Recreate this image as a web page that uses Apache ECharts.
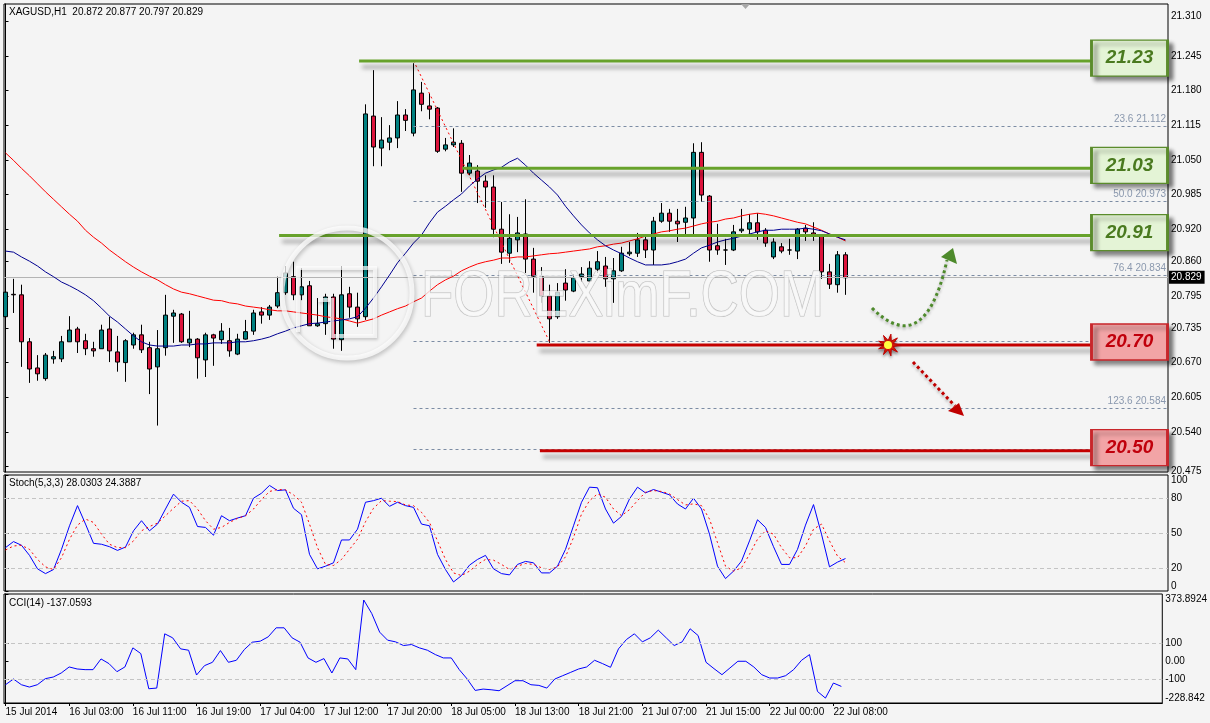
<!DOCTYPE html>
<html>
<head>
<meta charset="utf-8">
<script src="https://cdn.jsdelivr.net/npm/echarts@6/dist/echarts.min.js"></script>
<style>
html, body { margin: 0; padding: 0; background: #f4f4f4; }
#chart { width: 1210px; height: 723px; }
</style>
</head>
<body>
<div id="chart"></div>
<script>
// XAGUSD H1, 106 bars, [open, close, low, high]
const candles = [
  [20.756,20.802,20.750,20.806],[20.798,20.797,20.763,20.827],[20.797,20.709,20.662,20.816],[20.709,20.658,20.632,20.716],
  [20.660,20.649,20.636,20.684],[20.640,20.684,20.636,20.688],[20.677,20.681,20.668,20.692],[20.677,20.709,20.671,20.720],
  [20.709,20.731,20.709,20.757],[20.733,20.709,20.688,20.737],[20.711,20.696,20.684,20.724],[20.696,20.692,20.681,20.709],
  [20.696,20.731,20.696,20.741],[20.733,20.692,20.671,20.756],[20.690,20.671,20.653,20.720],[20.670,20.711,20.634,20.714],
  [20.703,20.722,20.696,20.726],[20.722,20.694,20.688,20.741],[20.698,20.658,20.611,20.709],[20.662,20.696,20.552,20.731],
  [20.698,20.759,20.683,20.797],[20.757,20.763,20.707,20.769],[20.761,20.709,20.707,20.763],[20.707,20.714,20.699,20.767],
  [20.714,20.679,20.640,20.716],[20.675,20.722,20.643,20.726],[20.722,20.716,20.664,20.724],[20.713,20.729,20.705,20.744],
  [20.711,20.692,20.681,20.735],[20.686,20.714,20.684,20.724],[20.714,20.728,20.713,20.750],[20.729,20.763,20.722,20.769],
  [20.765,20.759,20.743,20.774],[20.759,20.774,20.750,20.778],[20.776,20.801,20.772,20.831],[20.801,20.838,20.797,20.851],
  [20.831,20.797,20.787,20.859],[20.797,20.812,20.787,20.847],[20.814,20.739,20.739,20.823],[20.739,20.743,20.737,20.791],
  [20.743,20.793,20.722,20.799],[20.793,20.714,20.696,20.799],[20.713,20.797,20.692,20.851],[20.799,20.774,20.754,20.812],
  [20.774,20.752,20.737,20.801],[20.756,21.136,20.750,21.154],[21.132,21.074,21.038,21.218],[21.072,21.087,21.038,21.130],
  [21.083,21.091,21.068,21.115],[21.091,21.134,21.072,21.160],[21.134,21.124,21.104,21.145],[21.100,21.181,21.094,21.231],
  [21.175,21.154,21.141,21.196],[21.151,21.145,21.126,21.175],[21.147,21.066,21.063,21.149],[21.070,21.078,21.066,21.091],
  [21.078,21.083,21.074,21.109],[21.081,21.025,20.990,21.087],[21.025,21.044,21.021,21.059],[21.029,21.010,20.969,21.040],
  [21.010,20.999,20.960,21.021],[20.999,20.920,20.905,21.021],[20.920,20.877,20.855,20.971],[20.875,20.903,20.857,20.948],
  [20.900,20.913,20.877,20.943],[20.911,20.864,20.838,20.976],[20.864,20.832,20.801,20.885],[20.831,20.795,20.782,20.849],
  [20.795,20.752,20.707,20.816],[20.756,20.802,20.752,20.819],[20.819,20.806,20.786,20.845],[20.804,20.829,20.802,20.836],
  [20.831,20.836,20.821,20.849],[20.823,20.847,20.823,20.860],[20.845,20.859,20.838,20.879],[20.851,20.827,20.812,20.868],
  [20.827,20.842,20.782,20.866],[20.842,20.875,20.840,20.887],[20.874,20.877,20.870,20.896],[20.875,20.900,20.868,20.913],
  [20.900,20.881,20.866,20.909],[20.881,20.935,20.853,20.943],[20.935,20.950,20.932,20.969],[20.950,20.935,20.915,20.958],
  [20.935,20.930,20.896,20.958],[20.933,20.941,20.909,20.962],[20.941,21.064,20.911,21.081],[21.064,20.984,20.971,21.083],
  [20.982,20.881,20.859,20.984],[20.889,20.881,20.872,20.930],[20.881,20.881,20.853,20.902],[20.881,20.915,20.879,20.928],
  [20.917,20.920,20.913,20.958],[20.920,20.932,20.909,20.948],[20.932,20.915,20.900,20.950],[20.918,20.894,20.887,20.922],
  [20.868,20.896,20.864,20.903],[20.887,20.879,20.875,20.894],[20.881,20.881,20.872,20.902],[20.879,20.920,20.864,20.922],
  [20.922,20.915,20.898,20.928],[20.913,20.909,20.898,20.933],[20.907,20.840,20.827,20.907],[20.840,20.817,20.808,20.855],
  [20.816,20.872,20.801,20.879],[20.872,20.829,20.797,20.877]
]

// moving averages (red slow, blue fast)
const maSlow = [21.063,21.049,21.034,21.020,21.005,20.990,20.976,20.962,20.948,20.935,
  20.918,20.905,20.894,20.881,20.870,20.859,20.849,20.840,20.832,20.825,
  20.816,20.808,20.802,20.799,20.795,20.791,20.787,20.786,20.782,20.780,
  20.776,20.774,20.772,20.769,20.767,20.767,20.765,20.763,20.761,20.759,
  20.756,20.754,20.752,20.748,20.744,20.748,20.752,20.759,20.765,20.771,
  20.776,20.784,20.791,20.804,20.816,20.825,20.832,20.842,20.849,20.855,
  20.859,20.862,20.866,20.866,20.868,20.868,20.870,20.872,20.874,20.875,
  20.877,20.879,20.881,20.883,20.887,20.889,20.892,20.894,20.898,20.902,
  20.907,20.911,20.915,20.917,20.920,20.922,20.926,20.930,20.933,20.935,
  20.939,20.941,20.945,20.948,20.950,20.948,20.945,20.941,20.937,20.933,
  20.930,20.924,20.918,20.911,20.905,20.898]
const maFast = [20.879,20.877,20.868,20.860,20.851,20.840,20.831,20.821,20.814,20.806,
  20.797,20.786,20.772,20.757,20.746,20.733,20.720,20.709,20.703,20.701,
  20.701,20.701,20.703,20.703,20.705,20.705,20.707,20.707,20.707,20.709,
  20.709,20.711,20.714,20.718,20.724,20.729,20.735,20.739,20.743,20.744,
  20.746,20.748,20.750,20.752,20.756,20.772,20.791,20.812,20.834,20.857,
  20.875,20.894,20.909,20.932,20.952,20.963,20.975,20.986,21.001,21.014,
  21.025,21.031,21.036,21.046,21.053,21.040,21.025,21.012,20.999,20.984,
  20.963,20.945,20.928,20.913,20.900,20.889,20.881,20.874,20.866,20.859,
  20.853,20.853,20.853,20.855,20.859,20.864,20.875,20.885,20.890,20.896,
  20.900,20.903,20.907,20.911,20.915,20.918,20.918,20.920,20.920,20.920,
  20.922,20.920,20.917,20.911,20.905,20.900]

const stochK = [37.4,42.6,39.4,30.7,19.1,15.0,18.5,35.9,56.2,73.6,
  57.7,41.1,40.3,38.2,35.0,37.9,51.9,60.6,51.9,57.7,
  70.7,83.5,76.5,72.1,55.6,54.8,48.1,64.9,60.6,62.9,
  64.9,80.0,84.3,91.0,86.6,87.2,71.3,65.8,31.6,19.1,
  21.4,24.3,44.0,44.0,53.3,76.5,77.9,80.0,73.0,76.5,
  73.6,72.1,57.7,56.2,31.6,18.5,7.8,13.3,22.3,27.2,
  30.7,19.1,15.0,13.9,22.9,25.5,24.3,15.6,15.6,21.4,
  35.9,56.2,76.5,89.5,89.0,70.7,58.5,64.3,79.4,89.5,
  84.6,87.5,85.2,82.9,75.0,70.7,80.0,70.7,49.0,21.4,
  10.7,17.1,25.8,43.2,61.4,54.8,38.2,22.9,22.9,35.9,
  56.8,74.5,49.0,20.8,24.9,28.0]
const stochD = [35.3,38.8,39.4,35.9,27.2,20.8,18.5,28.7,44.6,56.8,
  62.0,59.1,49.0,40.3,37.4,37.4,43.2,51.9,55.6,58.5,
  64.9,71.3,77.4,77.9,70.7,60.6,53.3,54.8,59.1,62.6,
  64.9,70.7,78.8,85.8,87.5,87.2,82.9,76.5,57.7,37.4,
  22.9,22.0,27.2,35.9,44.6,59.7,71.3,77.9,77.4,77.1,
  74.2,73.6,67.8,59.1,43.2,27.2,15.6,13.3,17.1,22.9,
  27.2,26.6,22.9,18.5,21.4,23.7,22.9,20.0,18.5,20.8,
  29.5,46.1,66.3,77.9,83.7,80.8,70.7,64.9,70.1,77.9,
  85.2,86.6,85.8,83.7,78.8,74.2,75.1,73.6,62.0,41.7,
  21.4,17.1,20.0,31.6,44.6,51.9,49.0,37.4,28.7,28.7,
  38.8,53.3,57.7,43.2,30.1,24.4]
const cci = [-127.8,-96.3,-127.8,-140.7,-127.8,-94.4,-85.2,-63.0,-29.6,-40.7,
  -44.4,-44.4,14.8,-11.1,-55.6,-29.6,75.9,44.4,-150.0,-146.3,
  153.7,131.5,70.4,63.0,-74.1,-22.2,-3.7,61.1,-3.7,7.4,
  66.7,107.4,113.0,137.0,187.0,187.0,131.5,107.4,20.4,-3.7,
  16.7,-63.0,20.4,14.8,-44.4,340.7,266.7,163.0,118.5,109.3,
  88.9,94.4,75.9,63.0,38.9,20.4,20.4,-44.4,-96.3,-159.3,
  -151.9,-155.6,-161.1,-133.3,-105.6,-105.6,-127.8,-131.5,-146.3,-96.3,
  -77.8,-59.3,-40.7,-29.6,7.4,-11.1,-31.5,70.4,122.2,153.7,
  109.3,131.5,174.1,131.5,88.9,109.3,181.5,144.4,-3.7,-38.9,
  -72.2,-35.2,1.9,1.9,-29.6,-72.2,-90.7,-90.7,-77.8,-44.4,
  7.4,38.9,-165.0,-201.7,-118.5,-137.1]

// time labels, one every 8 bars
const timeLabels = ['15 Jul 2014','16 Jul 03:00','16 Jul 11:00','16 Jul 19:00','17 Jul 04:00','17 Jul 12:00','17 Jul 20:00',
  '18 Jul 05:00','18 Jul 13:00','18 Jul 21:00','21 Jul 07:00','21 Jul 15:00','22 Jul 00:00','22 Jul 08:00']
const timeTickIdx = timeLabels.map((t, k) => k * 8)

const priceTicks = [21.310,21.245,21.180,21.115,21.050,20.985,20.920,20.860,20.795,20.735,20.670,20.605,20.540,20.475]
const stochTicks = [0, 20, 50, 80, 100]
const cciTicks = [-228.842, -100, 0, 100, 373.8924]
const cciTickText = ['-228.842', '-100', '0.00', '100', '373.8924']

// fibonacci retracement of the 21.236 -> 20.709 swing
const fibLevels = [0, 23.6, 50.0, 76.4, 100.0, 123.6, 138.2]
const fibPrices = [21.236, 21.112, 20.973, 20.834, 20.710, 20.584, 20.508]

// support / resistance levels
const levelPrices = [21.235, 21.034, 20.908, 20.703, 20.505]
const levelText = ['21.23', '21.03', '20.91', '20.70', '20.50']
const levelFrom = [44.2, 57.1, 34.2, 66.4, 66.8]
const levelKind = ['up', 'up', 'up', 'down', 'down']

const lastPrice = 20.829

const X_MIN = -0.1875
const X_MAX = 145.3125
const LEVEL_END = 135.7
const BOX_X = 140.5
const FONT = '"Liberation Sans", Arial, sans-serif'

const chart = echarts.init(document.getElementById('chart'))

function xAxisFor (gridIndex, withLabels) {
  return {
    type: 'value', gridIndex: gridIndex, min: X_MIN, max: X_MAX,
    splitLine: { show: false },
    axisLine: { show: withLabels, onZero: false, lineStyle: { color: '#000' } },
    axisTick: { show: withLabels, customValues: timeTickIdx, length: 3, lineStyle: { color: '#000' } },
    axisLabel: {
      show: withLabels, customValues: timeTickIdx, align: 'left', margin: 4,
      fontSize: 10, color: '#000', fontFamily: FONT,
      formatter: function (v) { return timeLabels[Math.round(v / 8)] }
    }
  }
}

function rightAxis (gridIndex, min, max, ticks, fmt) {
  return {
    type: 'value', gridIndex: gridIndex, position: 'right', min: min, max: max,
    splitLine: { show: false },
    axisLine: { show: true, lineStyle: { color: '#000' } },
    axisTick: { show: true, customValues: ticks, length: 3, lineStyle: { color: '#000' } },
    axisLabel: {
      customValues: ticks, margin: 3, fontSize: 10, color: '#000', fontFamily: FONT,
      formatter: fmt, verticalAlignMinLabel: 'bottom', verticalAlignMaxLabel: 'top'
    }
  }
}

const dashGrey = { color: '#c4c4c4', type: [4, 3], width: 1 }

const fibMarks = fibLevels.map(function (lvl, k) {
  return [
    {
      coord: [51, fibPrices[k]],
      lineStyle: { color: '#7c8ca4', type: [3, 3], width: 1 },
      label: {
        show: true, position: 'insideEndTop', distance: 2,
        formatter: lvl.toFixed(1) + ' ' + fibPrices[k].toFixed(3),
        color: '#8a98ae', fontSize: 10, fontFamily: FONT
      }
    },
    { coord: [X_MAX, fibPrices[k]] }
  ]
})

const levelSeries = levelPrices.map(function (p, k) {
  const up = levelKind[k] === 'up'
  return {
    type: 'line', xAxisIndex: 0, yAxisIndex: 0, z: 10,
    symbol: 'none', silent: true,
    data: [[levelFrom[k], p], [LEVEL_END, p]],
    lineStyle: {
      color: up ? '#67a22b' : '#c40000', width: 3,
      shadowColor: 'rgba(0,0,0,0.35)', shadowBlur: 4, shadowOffsetX: 3, shadowOffsetY: 6
    },
    markPoint: {
      z: 20,
      symbol: 'rect', symbolSize: [76, 36], symbolOffset: [0, -3], silent: true,
      data: [{ coord: [BOX_X, p] }],
      itemStyle: {
        color: up ? '#e4f4d6' : '#f2a4a6',
        borderColor: up ? '#5b8c2c' : '#c8262b', borderWidth: 2,
        shadowColor: 'rgba(0,0,0,0.45)', shadowBlur: 4, shadowOffsetX: 4, shadowOffsetY: 4
      },
      label: {
        show: true, position: 'inside', formatter: levelText[k],
        color: up ? '#4a7a1f' : '#c0000c', fontSize: 19, fontStyle: 'italic',
        fontWeight: 'bold', fontFamily: FONT
      }
    }
  }
})

// explosion marker points
const star = []
for (let k = 0; k < 18; k++) {
  const r = k % 2 === 0 ? 11 : 4.5
  const a = k * Math.PI / 9
  star.push([889 + r * Math.cos(a), 345 + r * Math.sin(a)])
}

chart.setOption({
  backgroundColor: '#f4f4f4',
  animation: false,
  grid: [
    { left: 4, top: 4, width: 1164, height: 468, show: true, borderColor: '#000', borderWidth: 1, backgroundColor: '#f4f4f4' },
    { left: 4, top: 475, width: 1164, height: 116, show: true, borderColor: '#000', borderWidth: 1, backgroundColor: '#f4f4f4' },
    { left: 4, top: 594, width: 1164, height: 109, show: true, borderColor: '#000', borderWidth: 1, backgroundColor: '#f4f4f4' }
  ],
  xAxis: [xAxisFor(0, false), xAxisFor(1, false), xAxisFor(2, true)],
  yAxis: [
    rightAxis(0, 20.465, 21.342, priceTicks, function (v) { return v.toFixed(3) }),
    rightAxis(1, 0, 100, stochTicks, function (v) { return String(v) }),
    rightAxis(2, -228.842, 373.8924, cciTicks, function (v) { return cciTickText[cciTicks.indexOf(v)] })
  ],
  series: [
    {
      type: 'candlestick', xAxisIndex: 0, yAxisIndex: 0, z: 2,
      data: candles.map(function (c, i) { return [i, c[0], c[1], c[2], c[3]] }),
      encode: { x: 0, y: [1, 2, 3, 4] },
      barWidth: 5,
      itemStyle: {
        color: '#008080', color0: '#dc143c',
        borderColor: '#000', borderColor0: '#000', borderColorDoji: '#000', borderWidth: 1
      },
      markLine: {
        z: 3,
        symbol: ['none', 'none'], silent: true, animation: false,
        data: [
          {
            yAxis: lastPrice,
            lineStyle: { color: '#b4b4b4', type: 'solid', width: 1 },
            label: {
              show: true, position: 'end', distance: 1, formatter: lastPrice.toFixed(3),
              backgroundColor: '#000', color: '#fff', padding: [2, 3, 1, 2], fontSize: 10, fontFamily: FONT
            }
          },
          ...fibMarks,
          [
            { coord: [51, fibPrices[0]], lineStyle: { color: '#ff0000', type: [2, 3], width: 1 }, label: { show: false } },
            { coord: [68, 20.709] }
          ]
        ]
      }
    },
    {
      type: 'line', xAxisIndex: 0, yAxisIndex: 0, z: 3, symbol: 'none', silent: true,
      data: maSlow.map(function (v, i) { return [i, v] }),
      lineStyle: { color: '#ff0000', width: 1 }
    },
    {
      type: 'line', xAxisIndex: 0, yAxisIndex: 0, z: 3, symbol: 'none', silent: true,
      data: maFast.map(function (v, i) { return [i, v] }),
      lineStyle: { color: '#000090', width: 1 }
    },
    ...levelSeries,
    {
      type: 'line', xAxisIndex: 1, yAxisIndex: 1, symbol: 'none', silent: true, z: 3,
      data: stochK.map(function (v, i) { return [i, v] }),
      lineStyle: { color: '#0000ff', width: 1 },
      markLine: {
        symbol: ['none', 'none'], silent: true, label: { show: false }, lineStyle: dashGrey,
        data: [{ yAxis: 20 }, { yAxis: 50 }, { yAxis: 80 }]
      }
    },
    {
      type: 'line', xAxisIndex: 1, yAxisIndex: 1, symbol: 'none', silent: true, z: 3,
      data: stochD.map(function (v, i) { return [i, v] }),
      lineStyle: { color: '#ff0000', width: 1, type: [2, 3] }
    },
    {
      type: 'line', xAxisIndex: 2, yAxisIndex: 2, symbol: 'none', silent: true, z: 3,
      data: cci.map(function (v, i) { return [i, v] }),
      lineStyle: { color: '#0000ff', width: 1 },
      markLine: {
        symbol: ['none', 'none'], silent: true, label: { show: false }, lineStyle: dashGrey,
        data: [{ yAxis: 100 }, { yAxis: -100 }]
      }
    }
  ],
  graphic: [
    { type: 'text', left: 9, top: 7, z: 50, style: { text: 'XAGUSD,H1  20.872 20.877 20.797 20.829', font: '10px ' + FONT, fill: '#000' } },
    { type: 'text', left: 9, top: 478, z: 50, style: { text: 'Stoch(5,3,3) 28.0303 24.3887', font: '10px ' + FONT, fill: '#000' } },
    { type: 'text', left: 9, top: 598, z: 50, style: { text: 'CCI(14) -137.0593', font: '10px ' + FONT, fill: '#000' } },
    { type: 'polygon', z: 50, shape: { points: [[741, 4], [750, 4], [745.5, 9]] }, style: { fill: '#a8a8a8' } },
    // watermark
    {
      type: 'circle', z: 40, shape: { cx: 347, cy: 293, r: 65 },
      style: { fill: 'none', stroke: 'rgba(255,255,255,0.75)', lineWidth: 5, shadowColor: 'rgba(0,0,0,0.3)', shadowBlur: 4, shadowOffsetX: 1, shadowOffsetY: 2 }
    },
    {
      type: 'polyline', z: 40, shape: { points: [[298, 332], [298, 268], [375, 268], [375, 336], [332, 336], [332, 300], [318, 300]] },
      style: { fill: 'none', stroke: 'rgba(255,255,255,0.7)', lineWidth: 4, shadowColor: 'rgba(0,0,0,0.25)', shadowBlur: 3, shadowOffsetX: 1, shadowOffsetY: 2 }
    },
    {
      type: 'text', z: 41, x: 421, y: 298, scaleX: 0.815,
      style: {
        text: 'FOREXimF.COM', font: '65px ' + FONT, verticalAlign: 'middle',
        fill: 'rgba(250,250,250,0.75)', stroke: 'rgba(140,140,140,0.55)', lineWidth: 1.2,
        shadowColor: 'rgba(0,0,0,0.25)', shadowBlur: 3, shadowOffsetX: 2, shadowOffsetY: 2
      }
    },
    // scenario arrows
    {
      type: 'bezierCurve', z: 60,
      shape: { x1: 872, y1: 308, cpx1: 900, cpy1: 336, cpx2: 930, cpy2: 338, x2: 947, y2: 260 },
      style: { stroke: '#4e8a2c', lineWidth: 3, lineDash: [3, 3], fill: 'none', shadowColor: 'rgba(0,0,0,0.3)', shadowBlur: 3, shadowOffsetY: 2 }
    },
    { type: 'polygon', z: 60, shape: { points: [[953, 248], [941, 257], [957, 264]] }, style: { fill: '#4e8a2c' } },
    {
      type: 'line', z: 60, shape: { x1: 913, y1: 362, x2: 955, y2: 406 },
      style: { stroke: '#c00000', lineWidth: 3, lineDash: [3, 3], shadowColor: 'rgba(0,0,0,0.3)', shadowBlur: 3, shadowOffsetY: 2 }
    },
    { type: 'polygon', z: 60, shape: { points: [[964, 416], [948, 411], [959, 403]] }, style: { fill: '#c00000' } },
    { type: 'polygon', z: 60, shape: { points: star }, style: { fill: '#e8200a', stroke: '#c00000', lineWidth: 1, shadowColor: 'rgba(0,0,0,0.35)', shadowBlur: 3, shadowOffsetY: 2 } },
    { type: 'circle', z: 61, shape: { cx: 888, cy: 345, r: 4 }, style: { fill: '#ffff40' } }
  ]
})
</script>
</body>
</html>
